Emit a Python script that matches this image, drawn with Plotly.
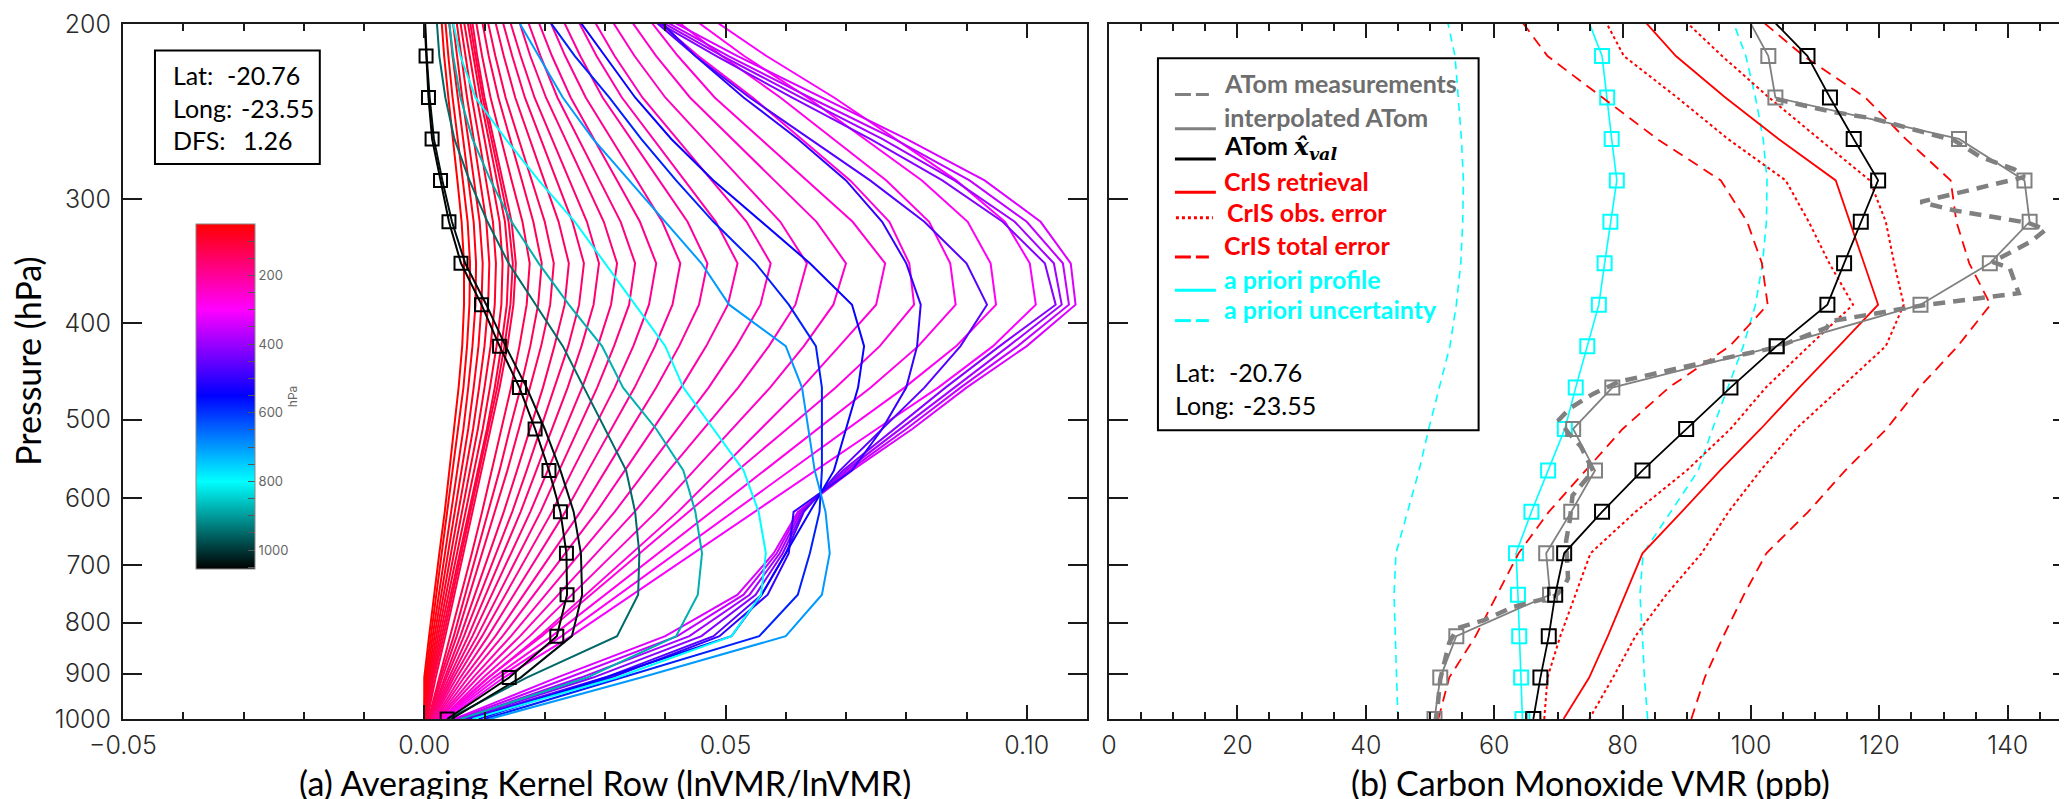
import numpy as np
import plotly.graph_objects as go
from plotly.colors import sample_colorscale

# ---------------------------------------------------------------- data
# retrieval pressure levels (hPa), surface first
LEVELS = [1000.0, 908.5, 825.4, 749.9, 681.3, 619.0, 562.3, 510.9, 464.2, 421.7,
          383.1, 348.1, 316.2, 287.3, 261.0, 237.1, 215.4, 195.7]

# (a) averaging kernel rows; *_P is the pressure of the row (sets its colour)
BAND_P = [50, 58, 66, 74, 82, 90, 98, 106, 114, 120]
BAND_ROWS = [
    [0.0000, 0.0000, 0.0008, 0.0016, 0.0025, 0.0034, 0.0042, 0.0050, 0.0057, 0.0063, 0.0066, 0.0066, 0.0062, 0.0055, 0.0047, 0.0040, 0.0033, 0.0028],
    [0.0000, 0.0002, 0.0011, 0.0020, 0.0030, 0.0039, 0.0048, 0.0057, 0.0065, 0.0071, 0.0075, 0.0076, 0.0072, 0.0064, 0.0055, 0.0047, 0.0040, 0.0034],
    [0.0001, 0.0004, 0.0014, 0.0024, 0.0035, 0.0045, 0.0055, 0.0065, 0.0073, 0.0080, 0.0085, 0.0086, 0.0082, 0.0073, 0.0064, 0.0055, 0.0047, 0.0040],
    [0.0001, 0.0006, 0.0017, 0.0028, 0.0040, 0.0051, 0.0062, 0.0073, 0.0082, 0.0090, 0.0095, 0.0097, 0.0092, 0.0083, 0.0073, 0.0063, 0.0054, 0.0046],
    [0.0002, 0.0008, 0.0020, 0.0032, 0.0045, 0.0057, 0.0069, 0.0081, 0.0091, 0.0100, 0.0106, 0.0108, 0.0103, 0.0093, 0.0082, 0.0071, 0.0061, 0.0052],
    [0.0002, 0.0010, 0.0023, 0.0036, 0.0050, 0.0063, 0.0076, 0.0089, 0.0100, 0.0110, 0.0117, 0.0119, 0.0114, 0.0103, 0.0091, 0.0079, 0.0068, 0.0058],
    [0.0003, 0.0012, 0.0026, 0.0040, 0.0055, 0.0069, 0.0083, 0.0097, 0.0109, 0.0120, 0.0128, 0.0130, 0.0125, 0.0113, 0.0100, 0.0087, 0.0075, 0.0064],
    [0.0003, 0.0014, 0.0029, 0.0044, 0.0059, 0.0074, 0.0089, 0.0104, 0.0117, 0.0128, 0.0137, 0.0140, 0.0134, 0.0121, 0.0107, 0.0093, 0.0081, 0.0070],
    [0.0004, 0.0016, 0.0032, 0.0047, 0.0062, 0.0077, 0.0092, 0.0107, 0.0121, 0.0133, 0.0143, 0.0147, 0.0140, 0.0126, 0.0111, 0.0097, 0.0085, 0.0074],
    [0.0005, 0.0019, 0.0035, 0.0050, 0.0065, 0.0080, 0.0095, 0.0110, 0.0125, 0.0138, 0.0148, 0.0152, 0.0145, 0.0130, 0.0115, 0.0100, 0.0088, 0.0078],
]

CHEVRON_P = [125, 132, 139, 146, 154, 162, 170, 178, 187, 196, 206, 216, 227, 238, 249, 260]
CHEVRON_ROWS = [
    [0.0007, 0.0025, 0.0044, 0.0061, 0.0079, 0.0096, 0.0112, 0.0128, 0.0144, 0.0158, 0.0170, 0.0175, 0.0163, 0.0145, 0.0128, 0.0110, 0.0096, 0.0084],
    [0.0008, 0.0027, 0.0049, 0.0068, 0.0088, 0.0107, 0.0125, 0.0142, 0.0160, 0.0176, 0.0189, 0.0195, 0.0181, 0.0162, 0.0142, 0.0123, 0.0107, 0.0094],
    [0.0009, 0.0030, 0.0054, 0.0075, 0.0097, 0.0118, 0.0138, 0.0157, 0.0176, 0.0194, 0.0209, 0.0215, 0.0200, 0.0178, 0.0157, 0.0135, 0.0118, 0.0103],
    [0.0010, 0.0034, 0.0060, 0.0084, 0.0108, 0.0132, 0.0154, 0.0175, 0.0197, 0.0216, 0.0233, 0.0240, 0.0223, 0.0199, 0.0175, 0.0151, 0.0132, 0.0115],
    [0.0011, 0.0037, 0.0066, 0.0093, 0.0119, 0.0146, 0.0170, 0.0193, 0.0217, 0.0239, 0.0257, 0.0265, 0.0246, 0.0220, 0.0193, 0.0167, 0.0146, 0.0127],
    [0.0012, 0.0041, 0.0073, 0.0102, 0.0131, 0.0160, 0.0186, 0.0212, 0.0238, 0.0261, 0.0281, 0.0290, 0.0270, 0.0241, 0.0212, 0.0183, 0.0160, 0.0139],
    [0.0013, 0.0045, 0.0080, 0.0112, 0.0144, 0.0176, 0.0205, 0.0234, 0.0262, 0.0288, 0.0310, 0.0320, 0.0298, 0.0266, 0.0234, 0.0202, 0.0176, 0.0154],
    [0.0014, 0.0049, 0.0088, 0.0123, 0.0158, 0.0193, 0.0224, 0.0256, 0.0287, 0.0315, 0.0340, 0.0350, 0.0326, 0.0291, 0.0256, 0.0221, 0.0193, 0.0168],
    [0.0015, 0.0054, 0.0096, 0.0135, 0.0173, 0.0212, 0.0246, 0.0281, 0.0316, 0.0347, 0.0373, 0.0385, 0.0358, 0.0320, 0.0281, 0.0243, 0.0212, 0.0185],
    [0.0017, 0.0060, 0.0106, 0.0149, 0.0191, 0.0234, 0.0272, 0.0310, 0.0349, 0.0383, 0.0412, 0.0425, 0.0395, 0.0353, 0.0310, 0.0268, 0.0234, 0.0204],
    [0.0019, 0.0066, 0.0118, 0.0165, 0.0212, 0.0259, 0.0301, 0.0343, 0.0385, 0.0423, 0.0456, 0.0470, 0.0437, 0.0390, 0.0343, 0.0296, 0.0259, 0.0226],
    [0.0021, 0.0073, 0.0130, 0.0182, 0.0234, 0.0286, 0.0333, 0.0380, 0.0426, 0.0468, 0.0504, 0.0520, 0.0484, 0.0432, 0.0380, 0.0328, 0.0286, 0.0250],
    [0.0023, 0.0081, 0.0144, 0.0201, 0.0259, 0.0316, 0.0368, 0.0420, 0.0472, 0.0518, 0.0558, 0.0575, 0.0535, 0.0477, 0.0420, 0.0362, 0.0316, 0.0276],
    [0.0025, 0.0089, 0.0159, 0.0222, 0.0286, 0.0349, 0.0406, 0.0464, 0.0521, 0.0572, 0.0616, 0.0635, 0.0591, 0.0527, 0.0464, 0.0400, 0.0349, 0.0305],
    [0.0028, 0.0098, 0.0175, 0.0245, 0.0315, 0.0385, 0.0448, 0.0511, 0.0574, 0.0630, 0.0679, 0.0700, 0.0651, 0.0581, 0.0511, 0.0441, 0.0385, 0.0336],
    [0.0031, 0.0107, 0.0191, 0.0268, 0.0344, 0.0421, 0.0490, 0.0558, 0.0627, 0.0689, 0.0750, 0.0765, 0.0711, 0.0635, 0.0558, 0.0482, 0.0421, 0.0367],
]

ARC_P = [268, 278, 290, 305]
ARC_ROWS = [
    [0.0028, 0.0106, 0.0195, 0.0276, 0.0358, 0.0439, 0.0520, 0.0602, 0.0683, 0.0756, 0.0813, 0.0805, 0.0772, 0.0707, 0.0626, 0.0545, 0.0455, 0.0374],
    [0.0031, 0.0115, 0.0212, 0.0300, 0.0388, 0.0476, 0.0564, 0.0653, 0.0741, 0.0820, 0.0882, 0.0873, 0.0838, 0.0767, 0.0679, 0.0591, 0.0494, 0.0406],
    [0.0033, 0.0123, 0.0228, 0.0323, 0.0418, 0.0512, 0.0607, 0.0702, 0.0797, 0.0883, 0.0949, 0.0940, 0.0902, 0.0826, 0.0731, 0.0636, 0.0531, 0.0437],
    [0.0036, 0.0132, 0.0244, 0.0345, 0.0447, 0.0548, 0.0650, 0.0751, 0.0853, 0.0944, 0.1015, 0.1005, 0.0964, 0.0883, 0.0782, 0.0680, 0.0568, 0.0467],
]

VIOLET_P = [335, 360, 390, 420, 465]
VIOLET_ROWS = [
    [0.0050, 0.0220, 0.0400, 0.0520, 0.0580, 0.0620, 0.0710, 0.0810, 0.0900, 0.1000, 0.1081, 0.1073, 0.1023, 0.0930, 0.0800, 0.0660, 0.0520, 0.0390],
    [0.0055, 0.0240, 0.0420, 0.0530, 0.0585, 0.0622, 0.0705, 0.0800, 0.0890, 0.0985, 0.1070, 0.1060, 0.1000, 0.0905, 0.0780, 0.0640, 0.0505, 0.0380],
    [0.0060, 0.0260, 0.0440, 0.0540, 0.0590, 0.0625, 0.0700, 0.0790, 0.0878, 0.0970, 0.1058, 0.1045, 0.0980, 0.0880, 0.0760, 0.0625, 0.0495, 0.0372],
    [0.0065, 0.0280, 0.0460, 0.0550, 0.0595, 0.0628, 0.0695, 0.0780, 0.0865, 0.0955, 0.1048, 0.1030, 0.0960, 0.0860, 0.0740, 0.0610, 0.0485, 0.0365],
    [0.0070, 0.0300, 0.0480, 0.0560, 0.0600, 0.0630, 0.0690, 0.0760, 0.0830, 0.0890, 0.0934, 0.0900, 0.0830, 0.0740, 0.0640, 0.0540, 0.0450, 0.0370],
]

BLUE_P = [500, 540, 580, 700]
BLUE_ROWS = [
    [0.0075, 0.0310, 0.0490, 0.0570, 0.0605, 0.0613, 0.0710, 0.0760, 0.0800, 0.0818, 0.0824, 0.0800, 0.0760, 0.0700, 0.0620, 0.0530, 0.0450, 0.0380],
    [0.0090, 0.0300, 0.0510, 0.0560, 0.0600, 0.0639, 0.0680, 0.0700, 0.0720, 0.0730, 0.0710, 0.0640, 0.0560, 0.0480, 0.0410, 0.0350, 0.0300, 0.0250],
    [0.0100, 0.0330, 0.0556, 0.0620, 0.0640, 0.0656, 0.0660, 0.0660, 0.0660, 0.0650, 0.0605, 0.0550, 0.0480, 0.0418, 0.0360, 0.0307, 0.0250, 0.0200],
    [0.0108, 0.0360, 0.0600, 0.0660, 0.0673, 0.0666, 0.0648, 0.0638, 0.0627, 0.0600, 0.0506, 0.0460, 0.0400, 0.0340, 0.0280, 0.0230, 0.0190, 0.0150],
]

LOWER_P = [800, 880, 950]
LOWER_ROWS = [
    [0.0080, 0.0320, 0.0510, 0.0559, 0.0567, 0.0555, 0.0530, 0.0480, 0.0430, 0.0400, 0.0350, 0.0300, 0.0250, 0.0190, 0.0135, 0.0085, 0.0060, 0.0045],
    [0.0060, 0.0270, 0.0418, 0.0454, 0.0461, 0.0450, 0.0430, 0.0385, 0.0330, 0.0295, 0.0240, 0.0190, 0.0145, 0.0110, 0.0080, 0.0060, 0.0048, 0.0040],
    [0.0040, 0.0170, 0.0320, 0.0355, 0.0357, 0.0350, 0.0335, 0.0300, 0.0265, 0.0230, 0.0185, 0.0140, 0.0105, 0.0075, 0.0050, 0.0035, 0.0025, 0.0020],
]

SURFACE_P = [1040, 1055]
SURFACE_ROWS = [
    [0.0045, 0.0160, 0.0245, 0.0262, 0.0260, 0.0248, 0.0226, 0.0200, 0.0170, 0.0135, 0.0103, 0.0068, 0.0046, 0.0030, 0.0016, 0.0009, 0.0004, 0.0001],
    [0.0038, 0.0141, 0.0220, 0.0237, 0.0236, 0.0226, 0.0207, 0.0184, 0.0158, 0.0125, 0.0095, 0.0061, 0.0041, 0.0027, 0.0013, 0.0007, 0.0003, 0.0000],
]

# (b) CO profiles (ppb) on LEVELS
APRIORI = [64.4, 64.2, 63.9, 63.7, 63.4, 65.8, 68.4, 71.0, 72.7, 74.5, 76.3, 77.2, 78.1, 79.1, 78.3, 77.6, 76.8, 74.3]
APRIORI_LO = [45.0, 44.8, 44.6, 44.4, 44.7, 46.5, 48.3, 49.8, 51.5, 53.1, 54.1, 54.8, 55.1, 55.2, 54.9, 54.4, 53.9, 52.5]
APRIORI_HI = [83.9, 83.4, 83.1, 82.7, 83.2, 87.5, 91.8, 94.0, 96.4, 98.8, 100.7, 101.8, 102.4, 102.5, 101.9, 100.7, 99.2, 96.8]
CRIS = [70.8, 74.8, 77.7, 80.4, 83.1, 89.2, 95.2, 101.5, 107.5, 113.7, 119.8, 117.6, 115.4, 113.2, 104.3, 96.0, 88.3, 82.5]
CRIS_OBS_LO = [67.8, 68.3, 70.3, 72.7, 75.0, 82.0, 90.0, 96.8, 102.3, 109.0, 115.9, 112.2, 109.0, 105.4, 96.4, 88.5, 80.2, 76.8]
CRIS_OBS_HI = [74.8, 78.5, 82.0, 86.8, 92.3, 96.5, 101.5, 107.0, 114.0, 121.0, 123.8, 122.3, 121.0, 118.5, 110.6, 102.8, 95.5, 88.7]
CRIS_TOT_LO = [51.3, 53.0, 57.1, 60.5, 63.8, 68.5, 74.3, 80.0, 87.2, 96.7, 102.6, 101.7, 99.4, 95.3, 85.4, 76.9, 68.3, 63.5]
CRIS_TOT_HI = [90.7, 92.8, 95.7, 98.9, 102.4, 108.9, 114.7, 121.1, 126.2, 132.2, 137.3, 134.0, 132.0, 131.1, 124.1, 117.8, 108.2, 100.5]
ATOM_INTERP = [50.7, 51.6, 54.1, 68.7, 68.1, 72.0, 75.7, 72.3, 78.4, 104.0, 126.4, 137.2, 143.4, 142.6, 132.4, 103.8, 102.7, 99.2]
ATOM_XVAL = [66.1, 67.2, 68.5, 69.5, 70.9, 76.8, 83.1, 89.9, 96.8, 104.0, 111.9, 114.5, 117.1, 119.8, 116.0, 112.3, 108.8, 102.5]

# raw ATom measurement profile
ATOM_P = [238, 245, 249, 262, 272, 280, 285, 302, 308, 317, 322, 331, 347, 352, 373, 384, 398, 404,
          423, 440, 458, 471, 487, 500, 515, 532, 563, 596, 630, 662, 722, 738, 752, 772, 796, 810,
          838, 912, 1000]
ATOM_CO = [103.9, 112.5, 119.1, 131.7, 135.7, 141.0, 142.6, 126.4, 131.7, 143.2, 145.9, 143.6, 137.6,
           140.3, 141.7, 126.4, 112.5, 111.8, 103.9, 91.3, 79.4, 75.4, 71.8, 70.1, 71.5, 73.5, 75.4,
           72.2, 71.8, 71.2, 71.5, 70.8, 69.5, 62.8, 58.3, 54.3, 53.0, 51.6, 51.0]

Y_TICKS = [200, 300, 400, 500, 600, 700, 800, 900, 1000]
Y_TICK_TEXT = ["200", "300", "400", "500", "600", "700", "800", "900", "1000"]
XA_TICKS = [-0.05, 0.0, 0.05, 0.10]
XA_TICK_TEXT = ["\u22120.05", "0.00", "0.05", "0.10"]
XB_TICKS = [0, 20, 40, 60, 80, 100, 120, 140]
XB_TICK_TEXT = ["0", "20", "40", "60", "80", "100", "120", "140"]
CB_TICKS = list(range(100, 1051, 50))

# ---------------------------------------------------------------- styling helpers
W, H = 2067, 799
PL, PR, PT, PB = 115, 2066, 1, 711          # plot area in pixels


def px_x(px):
    return (px - PL) / (PR - PL)


def px_y(py):
    return 1 - (py - PT) / (PB - PT)


P_MIN, P_MAX = 50, 1055
CSCALE = [[0.0, "rgb(255,0,0)"], [0.2488, "rgb(255,0,255)"], [0.4975, "rgb(0,0,255)"],
          [0.7463, "rgb(0,255,255)"], [1.0, "rgb(0,0,0)"]]
CSCALE_REV = [[round(1 - t, 4), c] for t, c in reversed(CSCALE)]


def row_color(p):
    t = min(max((p - P_MIN) / (P_MAX - P_MIN), 0.0), 1.0)
    return sample_colorscale(CSCALE, [t])[0]


TITLE_FONT = "Lato, 'Open Sans', sans-serif"
TICK_FONT = dict(family="Inter, 'DejaVu Sans', sans-serif", size=25, color="#2a2a2a", weight=300)
GREY = "rgb(128,128,128)"
RED = "rgb(255,0,0)"
CYAN = "rgb(0,255,255)"

fig = go.Figure()

# ---------------------------------------------------------------- panel (a)
families = [(BAND_P, BAND_ROWS), (CHEVRON_P, CHEVRON_ROWS), (ARC_P, ARC_ROWS),
            (VIOLET_P, VIOLET_ROWS), (BLUE_P, BLUE_ROWS), (LOWER_P, LOWER_ROWS)]
for plist, rows in families:
    for p, row in zip(plist, rows):
        fig.add_trace(go.Scatter(x=row, y=LEVELS, mode="lines",
                                 line=dict(color=row_color(p), width=2),
                                 xaxis="x", yaxis="y", hoverinfo="skip"))

fig.add_trace(go.Scatter(x=SURFACE_ROWS[0], y=LEVELS, mode="lines",
                         line=dict(color=row_color(SURFACE_P[0]), width=2),
                         xaxis="x", yaxis="y", hoverinfo="skip"))
fig.add_trace(go.Scatter(x=SURFACE_ROWS[1], y=LEVELS, mode="lines+markers",
                         line=dict(color="black", width=2),
                         marker=dict(symbol="square-open", size=13, color="black",
                                     line=dict(width=2)),
                         xaxis="x", yaxis="y", hoverinfo="skip"))

# colour bar (row pressure)
fig.add_trace(go.Scatter(
    x=[None], y=[None], mode="markers", xaxis="x", yaxis="y", hoverinfo="skip",
    marker=dict(color=[-P_MAX], cmin=-P_MAX, cmax=-P_MIN, colorscale=CSCALE_REV,
                showscale=True,
                colorbar=dict(x=px_x(188), xanchor="left", xpad=0,
                              y=px_y(381.5), yanchor="middle", ypad=0,
                              thickness=59, thicknessmode="pixels",
                              len=345, lenmode="pixels",
                              outlinewidth=1, outlinecolor="#888",
                              ticks="inside", ticklen=7, tickcolor="#555", tickwidth=1,
                              tickvals=[-v for v in CB_TICKS],
                              ticktext=[str(v) if v % 200 == 0 else " " for v in CB_TICKS],
                              tickfont=dict(family="Inter, sans-serif", size=13, color="#666"),
                              title=dict(text="hPa", side="right",
                                         font=dict(family="Inter, sans-serif", size=12, color="#666"))))))

# ---------------------------------------------------------------- panel (b)
def add_b(x, y, color, width, dash="solid", markers=False):
    fig.add_trace(go.Scatter(
        x=x, y=y, mode="lines+markers" if markers else "lines",
        line=dict(color=color, width=width, dash=dash),
        marker=dict(symbol="square-open", size=14, color=color, line=dict(width=2)),
        xaxis="x2", yaxis="y2", hoverinfo="skip"))


add_b(APRIORI_LO, LEVELS, CYAN, 1.6, "8px,6px")
add_b(APRIORI_HI, LEVELS, CYAN, 1.6, "8px,6px")
add_b(APRIORI, LEVELS, CYAN, 1.6, markers=True)
add_b(CRIS_TOT_LO, LEVELS, RED, 1.8, "11px,7px")
add_b(CRIS_TOT_HI, LEVELS, RED, 1.8, "11px,7px")
add_b(CRIS_OBS_LO, LEVELS, RED, 2, "dot")
add_b(CRIS_OBS_HI, LEVELS, RED, 2, "dot")
add_b(CRIS, LEVELS, RED, 1.8)
add_b(ATOM_CO, ATOM_P, GREY, 4.5, "12px,8px")
add_b(ATOM_INTERP, LEVELS, GREY, 1.8, markers=True)
add_b(ATOM_XVAL, LEVELS, "black", 1.8, markers=True)

# ---------------------------------------------------------------- axes
axis_common = dict(showline=True, linecolor="#1a1a1a", linewidth=2, mirror="ticks",
                   ticks="inside", tickcolor="#1a1a1a", tickwidth=2,
                   showgrid=False, zeroline=False, tickfont=TICK_FONT,
                   ticklabeloverflow="allow")
minor_common = dict(ticks="inside", ticklen=7, tickcolor="#1a1a1a", tickwidth=2, showgrid=False)

fig.update_layout(
    width=W, height=H,
    margin=dict(l=PL, r=W - PR, t=PT, b=H - PB),
    paper_bgcolor="white", plot_bgcolor="white",
    showlegend=False,
    xaxis=dict(axis_common, domain=[0, px_x(1080)], range=[-0.05, 0.11],
               tickmode="array", tickvals=XA_TICKS, ticktext=XA_TICK_TEXT, ticklen=14,
               ticklabelstandoff=3,
               minor=dict(minor_common, dtick=0.01, tick0=0),
               anchor="y"),
    yaxis=dict(axis_common, type="log", range=[np.log10(1000), np.log10(200)],
               tickmode="array", tickvals=Y_TICKS, ticktext=Y_TICK_TEXT, ticklen=19,
               ticklabelstandoff=5, anchor="x"),
    xaxis2=dict(axis_common, domain=[px_x(1102), 1], range=[0, 150],
                tickmode="array", tickvals=XB_TICKS, ticktext=XB_TICK_TEXT, ticklen=14,
                ticklabelstandoff=3,
                minor=dict(minor_common, dtick=5, tick0=0),
                anchor="y2"),
    yaxis2=dict(axis_common, type="log", range=[np.log10(1000), np.log10(200)],
                tickmode="array", tickvals=Y_TICKS, ticktext=Y_TICK_TEXT, ticklen=19,
                showticklabels=False, anchor="x2"),
)

# ---------------------------------------------------------------- boxes and text
shapes = []
annotations = []


def box(x0, y0, x1, y1):
    shapes.append(dict(type="rect", xref="paper", yref="paper",
                       x0=px_x(x0), x1=px_x(x1), y0=px_y(y0), y1=px_y(y1),
                       line=dict(color="black", width=2), fillcolor="rgba(0,0,0,0)"))


def text(s, x, y, color="black", size=25, bold=False, anchor="left", angle=0):
    annotations.append(dict(text=f"<b>{s}</b>" if bold else s, x=px_x(x), y=px_y(y),
                            xref="paper", yref="paper", xanchor=anchor, yanchor="middle",
                            showarrow=False, textangle=angle,
                            font=dict(family=TITLE_FONT, size=size, color=color)))


def sample(x0, x1, y, color, width=3, dash="solid"):
    shapes.append(dict(type="line", xref="paper", yref="paper",
                       x0=px_x(x0), x1=px_x(x1), y0=px_y(y), y1=px_y(y),
                       line=dict(color=color, width=width, dash=dash)))


# axis titles
text("(a) Averaging Kernel Row (lnVMR/lnVMR)", 597, 776, size=34, anchor="center")
text("(b) Carbon Monoxide VMR (ppb)", 1584, 776, size=34, anchor="center")
text("Pressure (hPa)", 20, 346, size=34, anchor="center", angle=-90)

# info box of panel (a)
box(147, 28, 312, 144)
text("Lat:", 163, 53)
text("-20.76", 217, 53)
text("Long:", 163, 87)
text("-23.55", 231, 87)
text("DFS:", 163, 119)
text("1.26", 233, 119)

# legend box of panel (b)
box(1151, 36, 1472, 416)
legend_rows = [
    ("ATom measurements", "rgb(110,110,110)", 61, "gap"),
    ("interpolated ATom", "rgb(110,110,110)", 96, "solid"),
    ("ATom <span style='font-family:DejaVu Serif'><i>x\u0302</i><sub><i>val</i></sub></span>", "black", 127, "solid"),
    ("CrIS retrieval", RED, 161, "solid"),
    ("CrIS obs. error", RED, 193, "dot"),
    ("CrIS total error", RED, 227, "gap"),
    ("a priori profile", CYAN, 261, "solid"),
    ("a priori uncertainty", CYAN, 292, "gap"),
]
for label, color, yc, style in legend_rows:
    line_color = GREY if color.startswith("rgb(110") else color
    ly = yc + 12
    if style == "gap":
        sample(1168, 1184, ly, line_color)
        sample(1189, 1202, ly, line_color)
    elif style == "dot":
        ly = yc + 6
        sample(1169, 1206, ly, line_color, width=3, dash="dot")
    else:
        sample(1168, 1209, ly, line_color, width=3)
    text(label, 1215 if style != "dot" else 1218, yc, color=color, bold=True)

text("Lat:", 1166, 356)
text("-20.76", 1220, 356)
text("Long:", 1166, 390)
text("-23.55", 1234, 390)

fig.update_layout(shapes=shapes, annotations=annotations)

fig.write_html("out.html")
